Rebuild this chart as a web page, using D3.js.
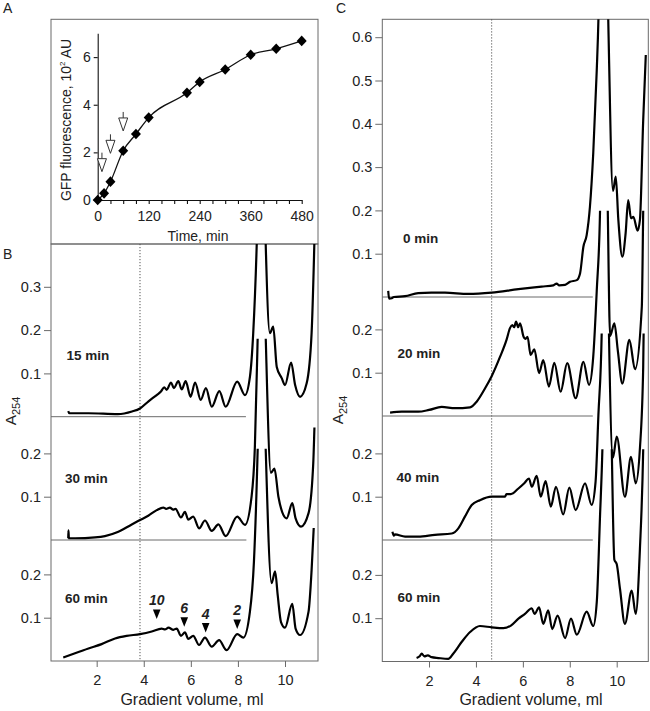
<!DOCTYPE html>
<html><head><meta charset="utf-8">
<script src="https://cdn.jsdelivr.net/npm/d3@7"></script>
<style>body{margin:0;background:#fff}</style>
</head><body>
<script>
// ---------- DATA ----------
// Panel A: GFP fluorescence (10^2 AU) vs time (min)
const gfpTime  = [0, 15, 30, 60, 90, 120, 210, 240, 300, 360, 420, 480];
const gfpValue = [0, 0.28, 0.77, 2.07, 2.77, 3.46, 4.5, 4.96, 5.48, 6.1, 6.35, 6.68];
const arrowTime = [10, 30, 60];
const arrowTip  = [1.19, 1.96, 2.9];
const timeTicks = [0,30,60,90,120,150,180,210,240,270,300,330,360,390,420,450,480];
const timeLabelTicks = [0,120,240,360,480];
const gfpTicks = [0,2,4,6];

// Gradient profiles [volume ml, A254 above baseline]
const b15 = [[0.79,0.013],[0.84,0.008],[1.65,0.008],[2.9,0.006],[3.5,0.012],[3.84,0.019],[4.19,0.035],[4.55,0.05],[4.73,0.058],[4.87,0.068],[4.97,0.062],[5.16,0.079],[5.28,0.066],[5.47,0.082],[5.61,0.063],[5.78,0.082],[5.99,0.046],[6.18,0.079],[6.42,0.039],[6.64,0.066],[6.89,0.023],[7.21,0.059],[7.48,0.023],[7.97,0.081],[8.3,0.05],[8.51,0.092],[8.65,0.193],[8.8,0.4],[9.0,0.9],[9.18,0.4],[9.36,0.193],[9.5,0.208],[9.65,0.115],[9.86,0.089],[10.0,0.073],[10.26,0.125],[10.43,0.073],[10.64,0.046],[10.92,0.077],[11.13,0.193],[11.27,0.45]];
const b30 = [[0.79,0.004],[0.8,0.022],[0.82,0.004],[1.08,0.004],[1.93,0.006],[2.35,0.009],[2.92,0.019],[3.49,0.036],[3.84,0.046],[4.19,0.056],[4.55,0.069],[4.83,0.075],[4.95,0.072],[5.11,0.075],[5.25,0.07],[5.35,0.072],[5.58,0.052],[5.75,0.065],[5.89,0.047],[6.1,0.054],[6.35,0.027],[6.6,0.045],[6.89,0.021],[7.17,0.036],[7.48,0.009],[7.97,0.054],[8.3,0.035],[8.58,0.1],[8.72,0.215],[8.84,0.47],[9.0,0.9],[9.18,0.47],[9.4,0.155],[9.55,0.165],[9.72,0.1],[9.93,0.058],[10.07,0.05],[10.31,0.085],[10.45,0.05],[10.68,0.031],[11.0,0.062],[11.2,0.177],[11.25,0.26]];
const b60 = [[0.58,0.008],[1.08,0.018],[1.65,0.029],[2.21,0.039],[2.78,0.052],[3.27,0.058],[3.84,0.062],[4.34,0.068],[4.76,0.075],[4.9,0.073],[5.05,0.077],[5.26,0.072],[5.4,0.075],[5.58,0.058],[5.75,0.066],[5.89,0.051],[6.1,0.058],[6.35,0.037],[6.6,0.054],[6.89,0.033],[7.2,0.048],[7.52,0.025],[7.97,0.062],[8.23,0.054],[8.51,0.114],[8.68,0.229],[8.84,0.49],[9.0,0.9],[9.18,0.49],[9.43,0.18],[9.58,0.207],[9.69,0.152],[9.83,0.09],[10.0,0.077],[10.31,0.132],[10.45,0.075],[10.64,0.06],[11.0,0.114],[11.13,0.21],[11.22,0.307]];
const c0 = [[0.26,0.014],[0.3,-0.004],[0.41,-0.003],[0.5,0.0],[0.98,0.002],[1.54,0.009],[2.1,0.01],[2.68,0.01],[3.67,0.007],[4.67,0.01],[5.81,0.018],[6.8,0.024],[7.3,0.027],[7.44,0.031],[7.55,0.027],[7.8,0.028],[8.01,0.035],[8.3,0.039],[8.44,0.055],[8.58,0.116],[8.72,0.143],[8.86,0.209],[9.0,0.332],[9.15,0.524],[9.22,0.64],[9.4,1.4],[9.64,0.64],[9.84,0.245],[9.96,0.278],[10.07,0.178],[10.24,0.093],[10.38,0.147],[10.49,0.224],[10.61,0.182],[10.71,0.185],[10.89,0.153],[10.99,0.178],[11.13,0.409],[11.24,0.559]];
const c20 = [[0.34,0.008],[0.84,0.01],[1.54,0.01],[2.0,0.014],[2.54,0.021],[3.11,0.018],[3.75,0.02],[4.03,0.033],[4.39,0.064],[4.67,0.092],[5.03,0.137],[5.31,0.177],[5.45,0.203],[5.55,0.21],[5.63,0.205],[5.71,0.218],[5.8,0.205],[5.88,0.214],[6.03,0.183],[6.1,0.178],[6.2,0.183],[6.33,0.141],[6.49,0.154],[6.69,0.099],[6.87,0.129],[7.11,0.068],[7.34,0.123],[7.61,0.056],[7.89,0.122],[8.25,0.041],[8.58,0.125],[8.82,0.072],[9.0,0.137],[9.15,0.29],[9.29,0.474],[9.45,1.2],[9.62,0.474],[9.72,0.185],[9.9,0.214],[10.05,0.15],[10.24,0.075],[10.54,0.176],[10.78,0.108],[11.07,0.252],[11.13,0.474],[11.22,0.8]];
const c40 = [[0.44,0.019],[0.5,0.01],[0.55,0.013],[0.98,0.008],[1.54,0.008],[2.25,0.012],[2.97,0.015],[3.25,0.027],[3.53,0.054],[3.82,0.081],[4.17,0.092],[4.67,0.1],[5.24,0.1],[5.3,0.106],[5.49,0.106],[5.81,0.119],[6.06,0.131],[6.26,0.142],[6.38,0.123],[6.59,0.148],[6.76,0.1],[6.97,0.136],[7.19,0.077],[7.41,0.123],[7.72,0.059],[7.98,0.121],[8.25,0.069],[8.65,0.131],[8.93,0.081],[9.1,0.135],[9.22,0.289],[9.36,0.477],[9.5,1.2],[9.67,0.477],[9.84,0.19],[10.0,0.239],[10.35,0.1],[10.61,0.192],[10.81,0.131],[10.99,0.212],[11.13,0.4],[11.22,0.8]];
const c60 = [[1.47,0.008],[1.6,0.012],[1.69,0.018],[1.8,0.012],[1.95,0.014],[2.11,0.01],[2.4,0.008],[2.82,0.006],[3.03,0.018],[3.39,0.045],[3.75,0.068],[4.17,0.082],[4.67,0.079],[5.17,0.077],[5.49,0.083],[5.81,0.099],[6.09,0.11],[6.38,0.123],[6.5,0.11],[6.69,0.125],[6.87,0.087],[7.08,0.118],[7.25,0.075],[7.48,0.106],[7.8,0.054],[8.05,0.099],[8.3,0.062],[8.72,0.115],[9.0,0.082],[9.15,0.137],[9.29,0.337],[9.39,0.49],[9.6,1.2],[9.79,0.49],[9.9,0.235],[10.0,0.225],[10.14,0.168],[10.35,0.087],[10.64,0.164],[10.81,0.11],[10.99,0.26],[11.13,0.49],[11.22,0.8]];

// polysome markers on B 60 min
const markerLabels = ["10", "6", "4", "2"];
const markerVol = [4.55, 5.72, 6.63, 7.97];
const markerTip = [0.097, 0.079, 0.066, 0.074];

const volTicks = [2, 4, 6, 8, 10];

// ---------- DRAW ----------
const font = "'Liberation Sans', Arial, Helvetica, sans-serif";
const ink = "#222";
const frame = "#6a6a6a";
const tickFont = 14.5;
const svg = d3.select("body").append("svg")
  .attr("width", 650).attr("height", 711)
  .style("font-family", font);
const defs = svg.append("defs");

function letter(t, x, y) {
  svg.append("text").attr("x", x).attr("y", y).attr("font-size", 14)
    .attr("fill", ink).text(t);
}

// ----- Panel A -----
letter("A", 3, 13);
svg.append("rect").attr("x", 51).attr("y", 19.3).attr("width", 267).attr("height", 224.7)
  .attr("fill", "none").attr("stroke", frame).attr("stroke-width", 1);
const aX = d3.scaleLinear().domain([0, 480]).range([97.7, 301.7]);
const aY = d3.scaleLinear().domain([0, 7]).range([200, 33.3]);
const gA = svg.append("g");
const axA = gA.append("g").attr("transform", "translate(0,200)")
  .call(d3.axisBottom(aX).tickValues(timeTicks).tickSize(4).tickSizeOuter(0)
    .tickFormat(d => timeLabelTicks.includes(d) ? d : ""));
const ayA = gA.append("g").attr("transform", "translate(97.7,0)")
  .call(d3.axisLeft(aY).tickValues(gfpTicks).tickSize(4).tickSizeOuter(0)
    .tickFormat(d3.format("d")));
[axA, ayA].forEach(g => {
  g.selectAll("path,line").attr("stroke", "#111").attr("stroke-width", 1.1);
  g.selectAll("text").attr("font-size", 14).attr("fill", ink).attr("font-family", font);
});
axA.selectAll("text").attr("dy", "1.0em");
gA.append("text").attr("x", 198).attr("y", 241).attr("text-anchor", "middle")
  .attr("font-size", 14).attr("fill", ink).text("Time, min");
const yl = gA.append("text").attr("transform", "translate(71,120) rotate(-90)")
  .attr("text-anchor", "middle").attr("font-size", 14).attr("fill", ink);
yl.append("tspan").text("GFP fluorescence, 10");
yl.append("tspan").attr("font-size", 8).attr("dy", -6).text("2");
yl.append("tspan").attr("dy", 6).text(" AU");

const gfp = gfpTime.map((t, i) => [t, gfpValue[i]]);
gA.append("path").datum(gfp)
  .attr("d", d3.line().x(d => aX(d[0])).y(d => aY(d[1])).curve(d3.curveMonotoneX))
  .attr("fill", "none").attr("stroke", "#111").attr("stroke-width", 1.3);
gA.selectAll("path.dia").data(gfp).join("path").attr("class", "dia")
  .attr("transform", d => `translate(${aX(d[0])},${aY(d[1])})`)
  .attr("d", "M0,-5.3L5,0L0,5.3L-5,0Z").attr("fill", "#000");
arrowTime.forEach((t, i) => {
  const x = aX(t), y = aY(arrowTip[i]);
  gA.append("line").attr("x1", x).attr("x2", x).attr("y1", y - 19).attr("y2", y - 13)
    .attr("stroke", "#333").attr("stroke-width", 1);
  gA.append("path").attr("d", `M${x - 4.5},${y - 13}L${x + 4.5},${y - 13}L${x},${y}Z`)
    .attr("fill", "#fff").attr("stroke", "#333").attr("stroke-width", 1);
});

// ----- helper for gradient panels -----
function gradientPanel(cfg) {
  const g = svg.append("g");
  g.append("rect").attr("x", cfg.left).attr("y", cfg.top)
    .attr("width", cfg.right - cfg.left).attr("height", cfg.bottom - cfg.top)
    .attr("fill", "none").attr("stroke", frame).attr("stroke-width", 1);
  const x = d3.scaleLinear().domain([0, 10]).range(cfg.xRange);
  g.append("line").attr("x1", x(cfg.dotted)).attr("x2", x(cfg.dotted))
    .attr("y1", cfg.top).attr("y2", cfg.bottom)
    .attr("stroke", "#555").attr("stroke-width", 1).attr("stroke-dasharray", "1.2,1.8");
  const ax = g.append("g").attr("transform", `translate(0,${cfg.bottom})`)
    .call(d3.axisBottom(x).tickValues(volTicks).tickSize(6).tickSizeOuter(0).tickPadding(8));
  ax.select(".domain").remove();
  ax.selectAll("line").attr("stroke", frame);
  ax.selectAll("text").attr("font-size", tickFont).attr("fill", ink).attr("font-family", font);
  g.append("text").attr("x", cfg.xTitleX).attr("y", 705).attr("text-anchor", "middle")
    .attr("font-size", 16).attr("fill", ink).text("Gradient volume, ml");
  const yt = g.append("text").attr("transform", `translate(${cfg.yTitleX},${cfg.yTitleY}) rotate(-90)`)
    .attr("text-anchor", "middle").attr("font-size", 15.5).attr("fill", ink);
  yt.append("tspan").text("A");
  yt.append("tspan").attr("font-size", 11).attr("dy", 4).text("254");

  cfg.subs.forEach((s, k) => {
    const y = d3.scaleLinear().domain([0, 0.1]).range([s.base, s.base - 43.3]);
    const ay = g.append("g").attr("transform", `translate(${cfg.left},0)`)
      .call(d3.axisLeft(y).tickValues(s.ticks).tickSize(7).tickSizeOuter(0).tickPadding(3)
        .tickFormat(d3.format(".1f")));
    ay.select(".domain").remove();
    ay.selectAll("line").attr("stroke", frame);
    ay.selectAll("text").attr("font-size", tickFont).attr("fill", ink).attr("font-family", font);
    if (s.lineTo) {
      g.append("line").attr("x1", cfg.left).attr("x2", x(s.lineTo))
        .attr("y1", s.base).attr("y2", s.base).attr("stroke", frame).attr("stroke-width", 1);
    }
    const id = cfg.id + k;
    const clipTop = s.clip == null ? cfg.top : y(s.clip);
    defs.append("clipPath").attr("id", id).append("rect")
      .attr("x", cfg.left).attr("y", clipTop).attr("width", cfg.right - cfg.left)
      .attr("height", cfg.bottom - clipTop);
    g.append("path").datum(s.data).attr("clip-path", `url(#${id})`)
      .attr("d", d3.line().x(d => x(d[0])).y(d => y(d[1])).curve(d3.curveMonotoneX))
      .attr("fill", "none").attr("stroke", "#000").attr("stroke-width", 2.2)
      .attr("stroke-linejoin", "round");
    g.append("text").attr("x", s.lx).attr("y", s.ly).attr("font-size", 13.5)
      .attr("font-weight", "bold").attr("fill", ink).text(s.label);
    if (s.markers) {
      markerLabels.forEach((lab, i) => {
        const mx = x(markerVol[i]), my = y(markerTip[i]);
        g.append("path").attr("d", `M${mx - 3.8},${my - 9.5}L${mx + 3.8},${my - 9.5}L${mx},${my}Z`)
          .attr("fill", "#000");
        g.append("text").attr("x", mx).attr("y", my - 13.5).attr("text-anchor", "middle")
          .attr("font-size", 14).attr("font-weight", "bold").attr("font-style", "italic")
          .attr("fill", ink).text(lab);
      });
    }
  });
}

letter("B", 3, 258.5);
gradientPanel({
  id: "clipB", left: 51, right: 318, top: 244, bottom: 661,
  xRange: [49.6, 285], dotted: 3.84, xTitleX: 192, yTitleX: 16, yTitleY: 411,
  subs: [
    { data: b15, base: 416.7, ticks: [0.1, 0.2, 0.3], clip: null, label: "15 min", lx: 66.5, ly: 360, lineTo: 8.34 },
    { data: b30, base: 540, ticks: [0.1, 0.2], clip: 0.465, label: "30 min", lx: 65, ly: 483, lineTo: 8.36 },
    { data: b60, base: 661, ticks: [0.1, 0.2], clip: 0.49, label: "60 min", lx: 65, ly: 603, markers: true }
  ]
});

letter("C", 336, 13);
gradientPanel({
  id: "clipC", left: 382.3, right: 648.3, top: 19.3, bottom: 661.5,
  xRange: [382.1, 616.7], dotted: 4.67, xTitleX: 531, yTitleX: 343, yTitleY: 410,
  subs: [
    { data: c0, base: 297, ticks: [0.1, 0.2, 0.3, 0.4, 0.5, 0.6], clip: null, label: "0 min", lx: 403, ly: 243, lineTo: 8.98 },
    { data: c20, base: 416, ticks: [0.1, 0.2], clip: 0.474, label: "20 min", lx: 397.5, ly: 357.5, lineTo: 8.98 },
    { data: c40, base: 540, ticks: [0.1, 0.2], clip: 0.477, label: "40 min", lx: 396.5, ly: 481.5, lineTo: 8.98 },
    { data: c60, base: 661.5, ticks: [0.1, 0.2], clip: 0.49, label: "60 min", lx: 397.5, ly: 601.5 }
  ]
});
</script>
</body></html>
